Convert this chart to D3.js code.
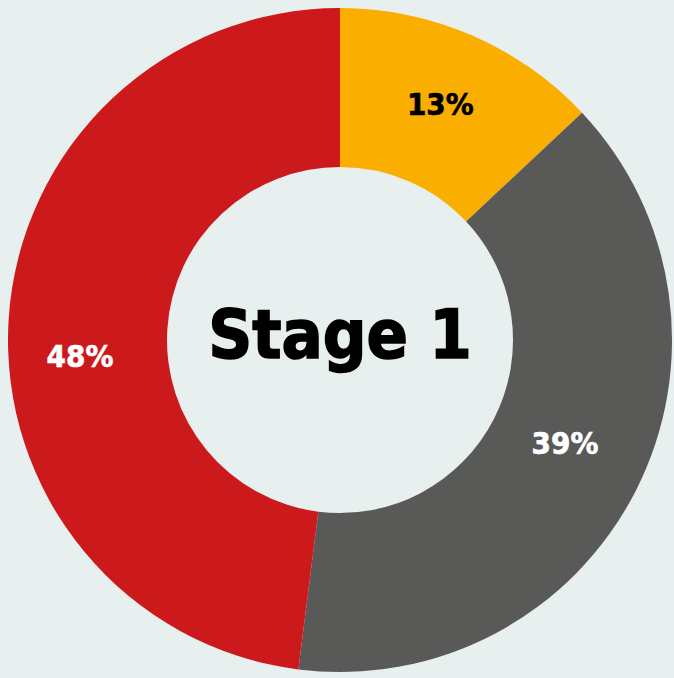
<!DOCTYPE html>
<html><head><meta charset="utf-8">
<script src="https://cdn.jsdelivr.net/npm/d3@7"></script>
<style>html,body{margin:0;padding:0;background:#e8efef;}</style>
</head><body>
<svg id="c" width="674" height="678"></svg>
<script>
const categories = ["A", "B", "C"];
const values = [13, 39, 48];
const labels = ["13%", "39%", "48%"];
const colors = ["#f9ae00", "#595957", "#cc1a1c"];
const labelColors = ["#000000", "#ffffff", "#ffffff"];
const centerTitle = "Stage 1";

// label placement tweaks (style, not data)
const labelNudge = [[0, -4], [0, -12], [-8, 32]];

const svg = d3.select("#c");
const cx = 340, cy = 340, R = 332, r = 173;
const g = svg.append("g").attr("transform", `translate(${cx},${cy})`);
const pie = d3.pie().sort(null).value(d => d)(values);
const arc = d3.arc().innerRadius(r).outerRadius(R);
g.selectAll("path").data(pie).join("path")
  .attr("d", arc).attr("fill", (d, i) => colors[i]);
g.selectAll("text.l").data(pie).join("text").attr("class", "l")
  .attr("transform", (d, i) => {
    const c = arc.centroid(d);
    return `translate(${c[0] + labelNudge[i][0]},${c[1] + labelNudge[i][1]})`;
  })
  .attr("text-anchor", "middle").attr("dy", "0.36em")
  .attr("font-family", "DejaVu Sans Condensed, DejaVu Sans")
  .attr("font-weight", "bold").attr("font-stretch", "condensed")
  .attr("font-size", 31)
  .attr("fill", (d, i) => labelColors[i])
  .attr("stroke", (d, i) => labelColors[i]).attr("stroke-width", 0.6)
  .text((d, i) => labels[i]);
g.append("text").attr("text-anchor", "middle").attr("y", 18)
  .attr("font-family", "DejaVu Sans Condensed, DejaVu Sans")
  .attr("font-weight", "bold").attr("font-stretch", "condensed")
  .attr("font-size", 68).attr("fill", "#000")
  .attr("stroke", "#000").attr("stroke-width", 1.5)
  .text(centerTitle);
</script>
</body></html>
